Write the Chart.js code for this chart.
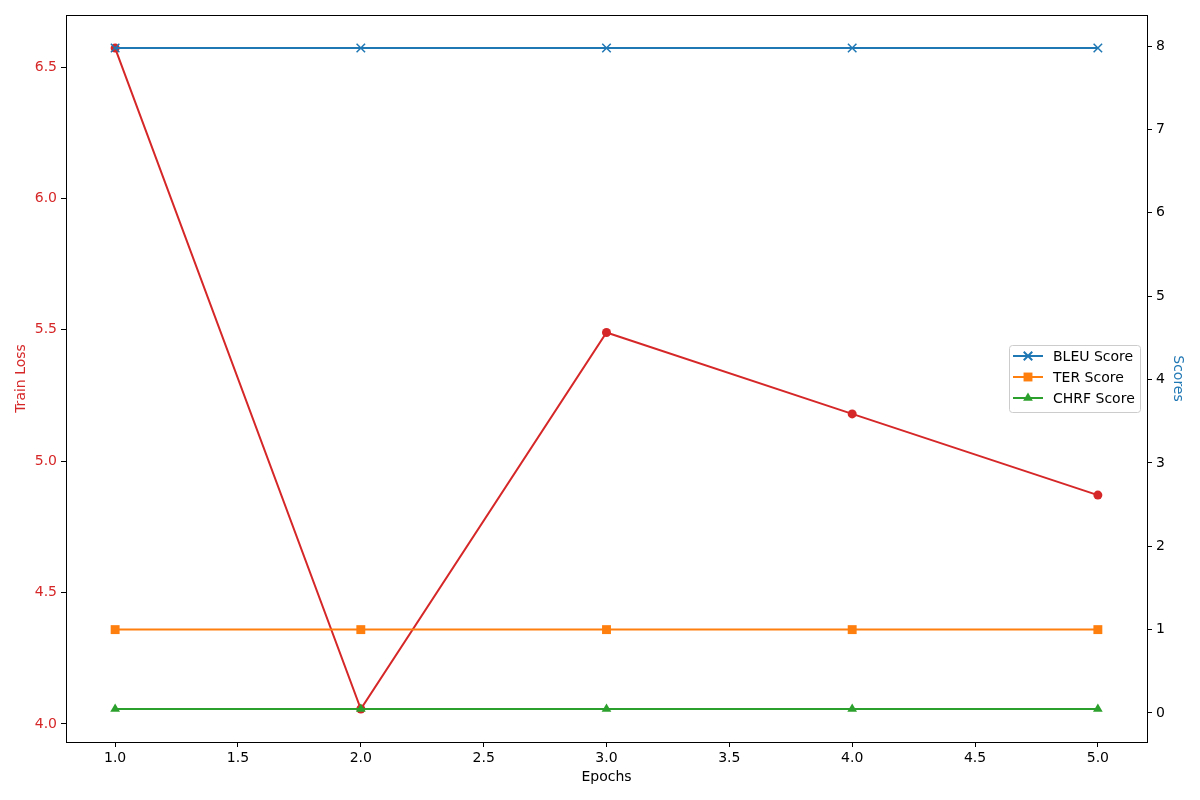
<!DOCTYPE html>
<html>
<head>
<meta charset="utf-8">
<script src="https://cdn.jsdelivr.net/npm/chart.js@4/dist/chart.umd.min.js"></script>
<style>
  html, body { margin: 0; padding: 0; background: #fff; }
  canvas { display: block; }
</style>
</head>
<body>
<canvas id="chart" width="1200" height="800"></canvas>
<script>
'use strict';

const EPOCHS = [1, 2, 3, 4, 5];
const TRAIN_LOSS = [6.572, 4.057, 5.49, 5.18, 4.871];
const BLEU = [7.976, 7.976, 7.976, 7.976, 7.976];
const TER = [1.0, 1.0, 1.0, 1.0, 1.0];
const CHRF = [0.048, 0.048, 0.048, 0.048, 0.048];

const X_TICKS = [1.0, 1.5, 2.0, 2.5, 3.0, 3.5, 4.0, 4.5, 5.0];
const LOSS_TICKS = [4.0, 4.5, 5.0, 5.5, 6.0, 6.5];
const SCORE_TICKS = [0, 1, 2, 3, 4, 5, 6, 7, 8];

const RED = '#d62728';
const BLUE = '#1f77b4';
const ORANGE = '#ff7f0e';
const GREEN = '#2ca02c';
const FONT = { family: 'DejaVu Sans', size: 14 };

const toPoints = ys => EPOCHS.map((x, i) => ({ x, y: ys[i] }));

const fixedTicks = list => scale => {
  scale.ticks = list.map(v => ({ value: v }));
};

// matplotlib style frame around the plot area
const framePlugin = {
  id: 'frame',
  afterDatasetsDraw(chart) {
    const { ctx, chartArea: a } = chart;
    ctx.save();
    ctx.strokeStyle = '#000';
    ctx.lineWidth = 1;
    ctx.strokeRect(Math.round(a.left) + 0.5, Math.round(a.top) + 0.5,
      Math.round(a.right - a.left), Math.round(a.bottom - a.top));
    ctx.restore();
  }
};

// legend box sitting inside the plot, right middle
const legendPlugin = {
  id: 'innerLegend',
  afterDraw(chart) {
    const { ctx } = chart;
    const items = chart.data.datasets.filter(d => d.inLegend);
    const box = { x: 1009.5, y: 345.5, w: 131, h: 67 };
    ctx.save();
    ctx.beginPath();
    ctx.roundRect(box.x, box.y, box.w, box.h, 3);
    ctx.fillStyle = 'rgba(255,255,255,0.8)';
    ctx.fill();
    ctx.strokeStyle = '#cccccc';
    ctx.lineWidth = 1;
    ctx.stroke();
    items.forEach((d, i) => {
      const y = 356 + i * 21;
      ctx.strokeStyle = d.borderColor;
      ctx.fillStyle = d.backgroundColor;
      ctx.lineWidth = 2;
      ctx.beginPath();
      ctx.moveTo(1013, y);
      ctx.lineTo(1043, y);
      ctx.stroke();
      Chart.helpers.drawPoint(ctx, {
        pointStyle: d.pointStyle,
        radius: d.pointRadius,
        rotation: 0,
        borderWidth: d.pointBorderWidth
      }, 1028, y);
      ctx.fillStyle = '#000';
      ctx.font = '14px "DejaVu Sans"';
      ctx.textBaseline = 'middle';
      ctx.fillText(d.label, 1053, y + 1);
    });
    ctx.restore();
  }
};

new Chart(document.getElementById('chart'), {
  type: 'line',
  data: {
    datasets: [
      {
        label: 'BLEU Score', data: toPoints(BLEU), yAxisID: 'yScore', inLegend: true,
        borderColor: BLUE, backgroundColor: BLUE, borderWidth: 2,
        pointStyle: 'crossRot', pointRadius: 6, pointBorderWidth: 1.5, order: 0
      },
      {
        label: 'TER Score', data: toPoints(TER), yAxisID: 'yScore', inLegend: true,
        borderColor: ORANGE, backgroundColor: ORANGE, borderWidth: 2,
        pointStyle: 'rect', pointRadius: 6.3, pointBorderWidth: 0, order: 0
      },
      {
        label: 'CHRF Score', data: toPoints(CHRF), yAxisID: 'yScore', inLegend: true,
        borderColor: GREEN, backgroundColor: GREEN, borderWidth: 2,
        pointStyle: 'triangle', pointRadius: 5.6, pointBorderWidth: 0, order: 0
      },
      {
        label: 'Train Loss', data: toPoints(TRAIN_LOSS), yAxisID: 'yLoss',
        borderColor: RED, backgroundColor: RED, borderWidth: 2,
        pointStyle: 'circle', pointRadius: 4.5, pointBorderWidth: 0, order: 1
      }
    ]
  },
  options: {
    responsive: false,
    animation: false,
    events: [],
    layout: { padding: { top: 15, left: 0, right: 0, bottom: 0 } },
    plugins: { legend: { display: false }, tooltip: { enabled: false } },
    scales: {
      x: {
        type: 'linear', min: 0.8, max: 5.2,
        afterBuildTicks: fixedTicks(X_TICKS),
        afterFit: s => { s.height = 58; },
        grid: { drawOnChartArea: false, tickLength: 5, color: '#000' },
        border: { display: false },
        ticks: { color: '#000', font: FONT, padding: 3, maxRotation: 0, callback: v => v.toFixed(1) },
        title: { display: true, text: 'Epochs', color: '#000', font: FONT, padding: { top: 0, bottom: 14 } }
      },
      yLoss: {
        type: 'linear', position: 'left', min: 3.9315, max: 6.698,
        afterBuildTicks: fixedTicks(LOSS_TICKS),
        afterFit: s => { s.width = 66; },
        grid: { drawOnChartArea: false, tickLength: 5, color: '#000' },
        border: { display: false },
        ticks: { color: RED, font: FONT, padding: 4, callback: v => v.toFixed(1) },
        title: { display: true, text: 'Train Loss', color: RED, font: FONT, padding: { top: 12.5, bottom: 0 } }
      },
      yScore: {
        type: 'linear', position: 'right', min: -0.348, max: 8.372,
        afterBuildTicks: fixedTicks(SCORE_TICKS),
        afterFit: s => { s.width = 53; },
        grid: { drawOnChartArea: false, tickLength: 5, color: '#000' },
        border: { display: false },
        ticks: { color: '#000', font: FONT, padding: 4, callback: v => String(v) },
        title: { display: true, text: 'Scores', color: BLUE, font: FONT, padding: { top: 13.5, bottom: 0 } }
      }
    }
  },
  plugins: [framePlugin, legendPlugin]
});
</script>
</body>
</html>
